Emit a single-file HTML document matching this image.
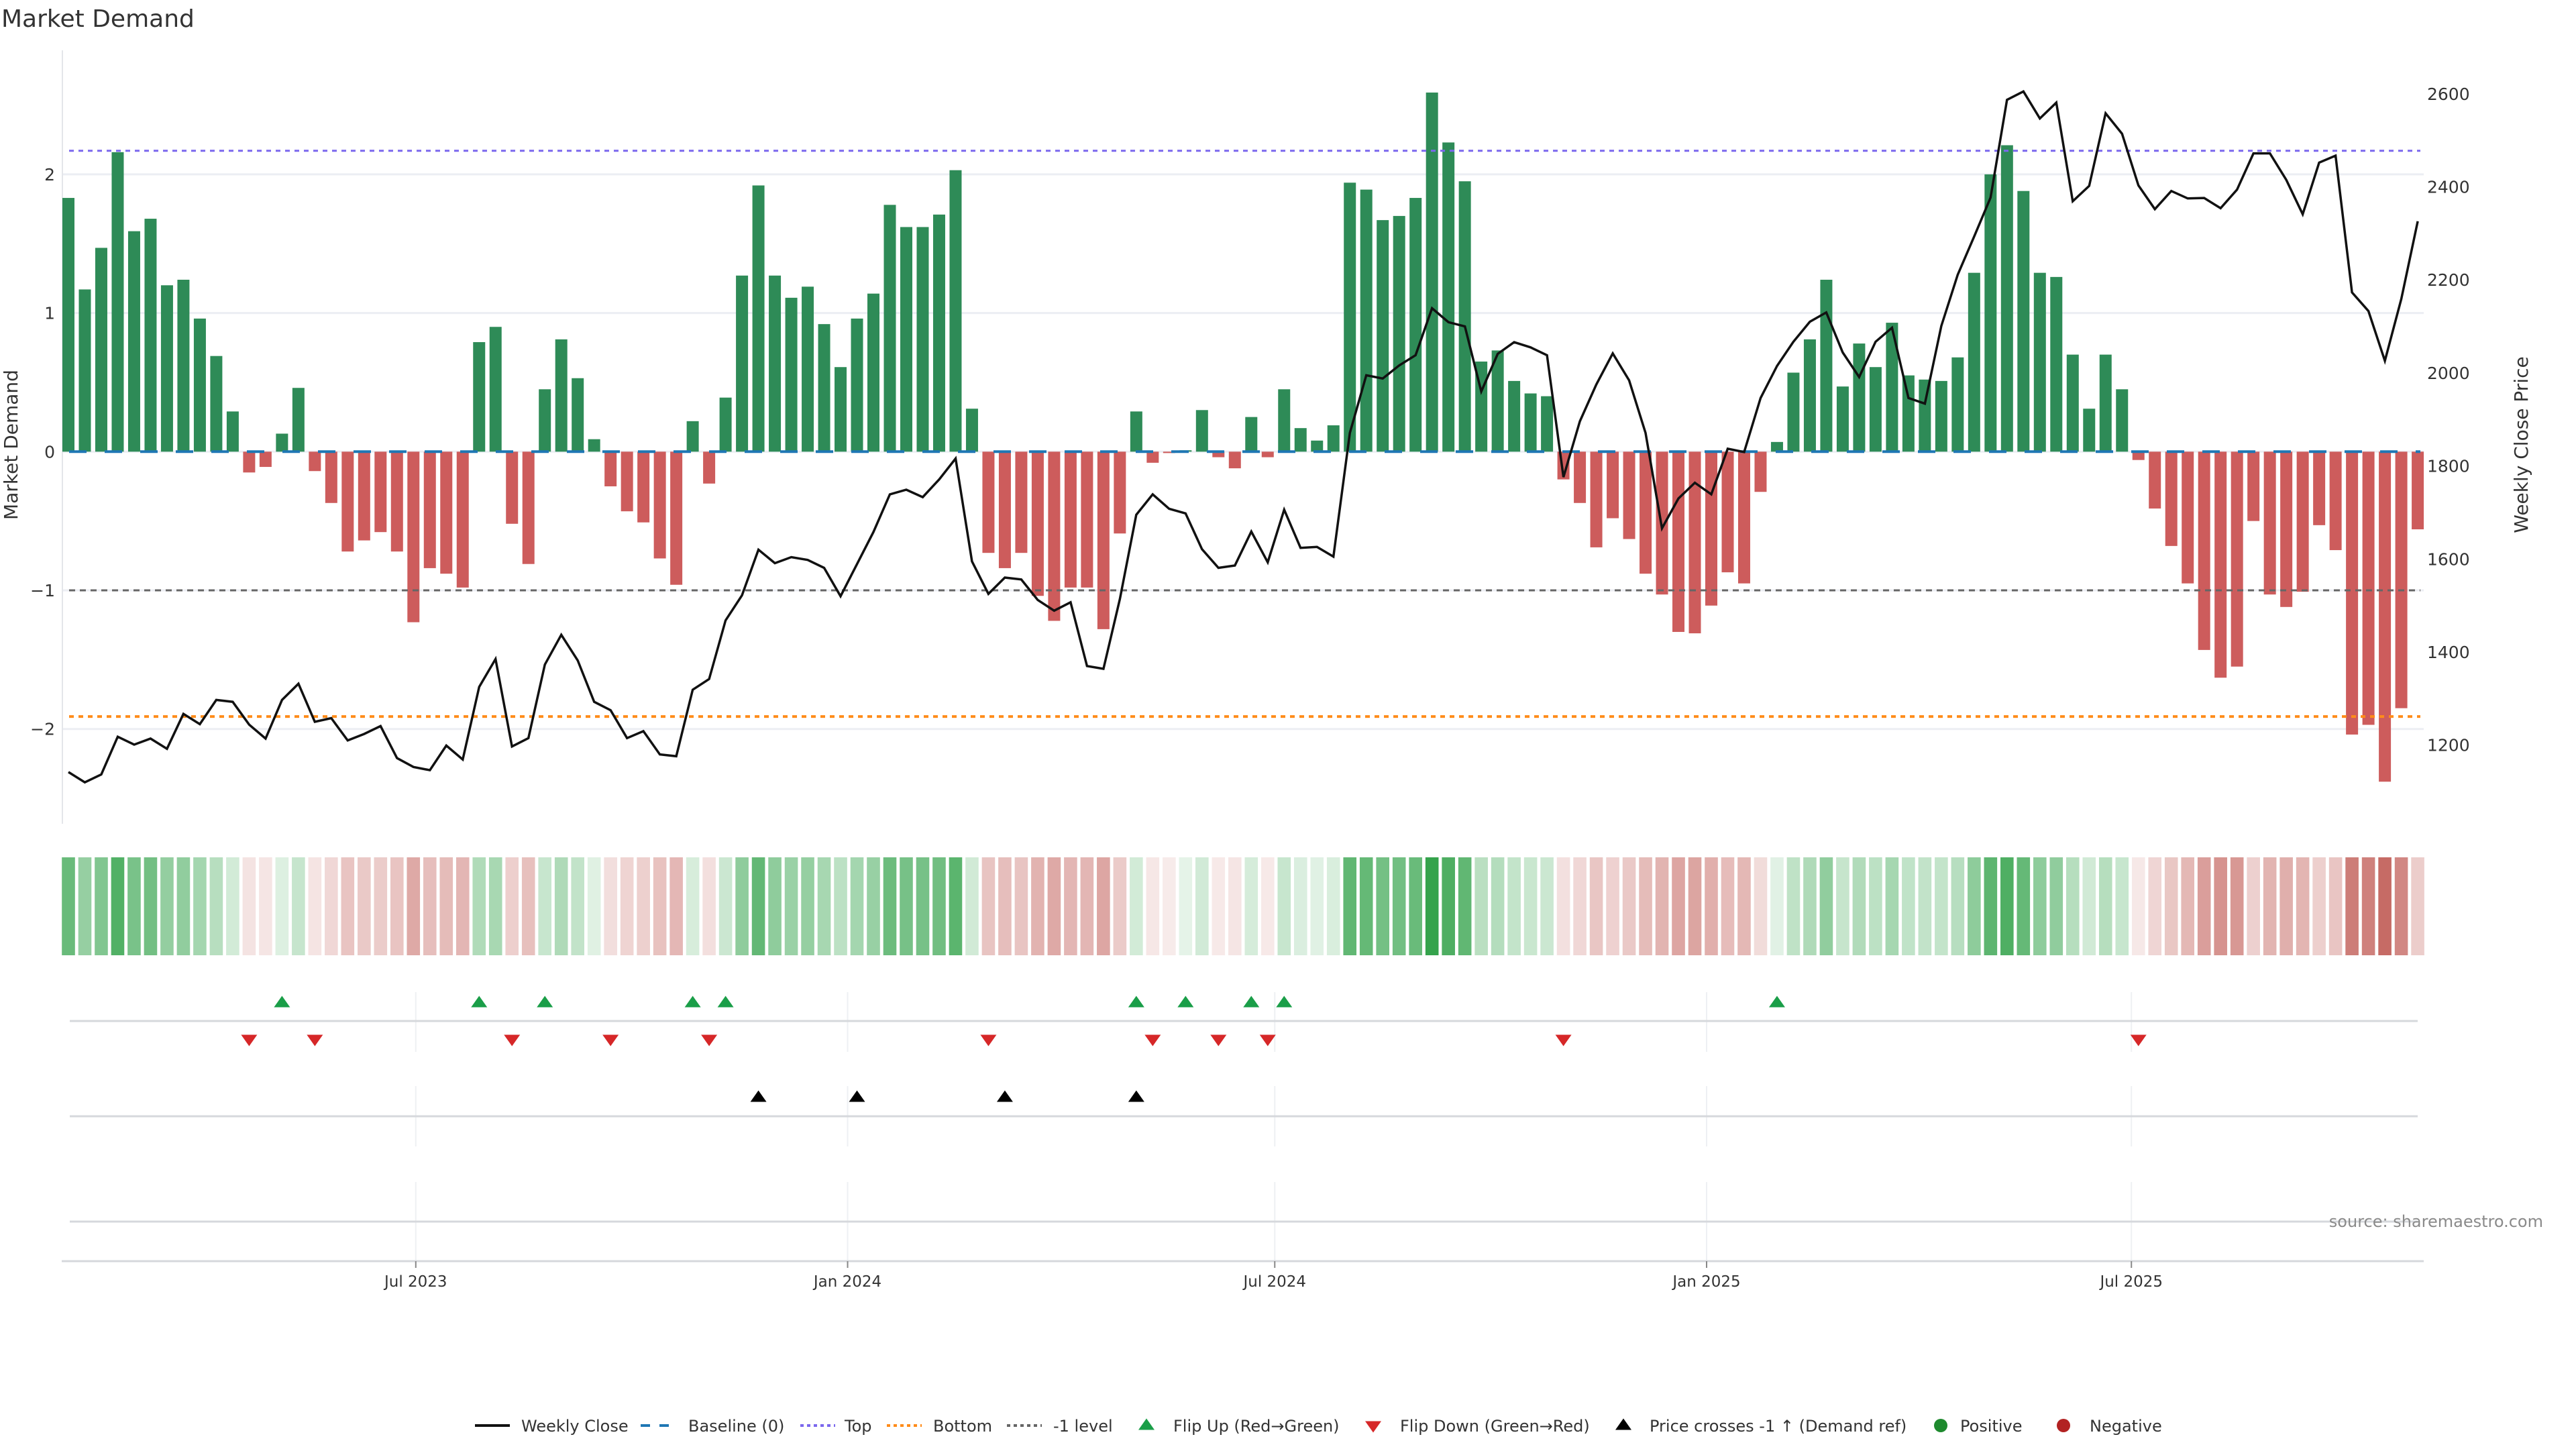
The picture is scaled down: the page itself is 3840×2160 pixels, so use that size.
<!DOCTYPE html>
<html><head><meta charset="utf-8"><style>
html,body{margin:0;padding:0;background:#fff;}
svg{display:block;font-family:"DejaVu Sans","Liberation Sans",sans-serif;}
</style></head><body>
<svg id="chart" xmlns="http://www.w3.org/2000/svg" width="3840" height="2160" viewBox="0 0 3840 2160">
<rect width="3840" height="2160" fill="#fff"/>
<text x="2" y="40" font-size="36" fill="#333">Market Demand</text>
<g id="main"></g>
</svg>
<script>
const demand = [1.83,1.17,1.47,2.16,1.59,1.68,1.20,1.24,0.96,0.69,
0.29,-0.15,-0.11,0.13,0.46,-0.14,-0.37,-0.72,-0.64,-0.58,
-0.72,-1.23,-0.84,-0.88,-0.98,0.79,0.90,-0.52,-0.81,0.45,
0.81,0.53,0.09,-0.25,-0.43,-0.51,-0.77,-0.96,0.22,-0.23,
0.39,1.27,1.92,1.27,1.11,1.19,0.92,0.61,0.96,1.14,
1.78,1.62,1.62,1.71,2.03,0.31,-0.73,-0.84,-0.73,-1.04,
-1.22,-0.98,-0.98,-1.28,-0.59,0.29,-0.08,-0.01,0.01,0.30,
-0.04,-0.12,0.25,-0.04,0.45,0.17,0.08,0.19,1.94,1.89,
1.67,1.70,1.83,2.59,2.23,1.95,0.65,0.73,0.51,0.42,
0.40,-0.20,-0.37,-0.69,-0.48,-0.63,-0.88,-1.03,-1.30,-1.31,
-1.11,-0.87,-0.95,-0.29,0.07,0.57,0.81,1.24,0.47,0.78,
0.61,0.93,0.55,0.52,0.51,0.68,1.29,2.00,2.21,1.88,
1.29,1.26,0.70,0.31,0.70,0.45,-0.06,-0.41,-0.68,-0.95,
-1.43,-1.63,-1.55,-0.50,-1.03,-1.12,-1.01,-0.53,-0.71,-2.04,
-1.97,-2.38,-1.85,-0.56];
const price = [1142,1120,1137,1218,1201,1214,1192,1267,1245,1297,
1293,1244,1214,1297,1332,1250,1258,1210,1224,1241,
1172,1153,1146,1199,1169,1325,1385,1197,1215,1373,
1437,1382,1293,1275,1215,1230,1180,1176,1319,1342,
1468,1522,1620,1591,1604,1598,1581,1520,1589,1658,
1739,1749,1733,1771,1816,1595,1525,1560,1556,1512,
1489,1507,1370,1364,1514,1695,1739,1708,1698,1621,
1581,1586,1659,1593,1706,1624,1626,1605,1871,1995,
1988,2016,2038,2139,2109,2100,1960,2041,2066,2055,
2038,1776,1896,1975,2042,1984,1871,1666,1730,1764,
1739,1837,1830,1946,2015,2067,2110,2130,2044,1991,
2067,2097,1946,1934,2101,2211,2293,2377,2587,2605,
2547,2581,2369,2402,2558,2514,2403,2352,2391,2375,
2376,2354,2394,2472,2472,2415,2341,2452,2467,2173,
2133,2026,2159,2326];
const leftTicks = [2,1,0,-1,-2];
const rightTicks = [1200,1400,1600,1800,2000,2200,2400,2600];
const xTickLabels = ["Jul 2023","Jan 2024","Jul 2024","Jan 2025","Jul 2025"];
const xTickDates = ["2023-07-01","2024-01-01","2024-07-01","2025-01-01","2025-07-01"];
const startDate = "2023-02-03";
const topLevel = 2.17;
const bottomLevel = -1.91;
const minusOneLevel = -1;

const NS = "http://www.w3.org/2000/svg";
const main = document.getElementById('main');
function mk(tag, attrs, parent, text){
  const e = document.createElementNS(NS, tag);
  for (const k in attrs) e.setAttribute(k, attrs[k]);
  if (text !== undefined) e.textContent = text;
  (parent || main).appendChild(e);
  return e;
}
const X0 = 102, DX = 24.49;
const xs = i => X0 + i * DX;
const ys = v => 673.3 - v * 206.7;
const yp = p => 1110.7 - (p - 1200) * 0.6935;
const dayMs = 86400000;
const xDate = d => xs((new Date(d) - new Date(startDate)) / dayMs / 7);
const PL = 93, PR = 3613;

const grid = mk('g', {});


leftTicks.forEach(t => {
  const l = mk('line', {x1: PL, x2: PR, y1: ys(t), y2: ys(t), stroke: '#eceef3', 'stroke-width': 3}, grid);
  
  
  const tx = mk('text', {x: 82, y: ys(t) + 9, 'text-anchor': 'end', 'font-size': 25, fill: '#333'}, grid, t < 0 ? '\u2212' + Math.abs(t) : String(t));
  
  
});
rightTicks.forEach(t => {
  const tx = mk('text', {x: 3618, y: yp(t) + 9, 'font-size': 25, fill: '#333'}, grid, String(t));
  
  
});
const ax = mk('line', {x1: PL, x2: PL, y1: 75, y2: 1228, stroke: '#e4e6ea', 'stroke-width': 2});


const yl = mk('text', {x: 0, y: 0, 'font-size': 28, fill: '#333', 'text-anchor': 'middle', transform: 'translate(26,663) rotate(-90)'}, main, 'Market Demand');


const yr = mk('text', {x: 0, y: 0, 'font-size': 28, fill: '#333', 'text-anchor': 'middle', transform: 'translate(3768,663) rotate(-90)'}, main, 'Weekly Close Price');



const bars = mk('g', {});


demand.forEach((v, i) => {
  const y1 = ys(Math.max(v, 0)), y2 = ys(Math.min(v, 0));
  const r = mk('rect', {x: xs(i) - 9, y: y1, width: 18, height: Math.max(y2 - y1, 0.5), fill: v >= 0 ? '#2e8b57' : '#cd5c5c'}, bars);
  
  
});
function hline(v, color, dash, name, w){
  const l = mk('line', {x1: PL + 10, x2: PR - 5, y1: ys(v), y2: ys(v), stroke: color, 'stroke-width': w || 3, 'stroke-dasharray': dash});
  
  
}
hline(0, '#1f77b4', '26 27', 'baseline-zero', 4);
hline(topLevel, '#7b68ee', '7 7', 'top-line');
hline(bottomLevel, '#ff8c1a', '7 7', 'bottom-line', 4);
hline(minusOneLevel, '#666', '9 7', 'minus-one-level');

const pts = price.map((p, i) => xs(i).toFixed(1) + ',' + yp(p).toFixed(1)).join(' ');
const pl = mk('polyline', {points: pts, fill: 'none', stroke: '#111', 'stroke-width': 3.5, 'stroke-linejoin': 'miter'});



const hm = mk('g', {});


demand.forEach((v, i) => {
  const t = Math.min(Math.abs(v) / 2.6, 1) * 0.85 + 0.12;
  const tgt = v >= 0 ? [46, 160, 70] : [192, 90, 84];
  const c = tgt.map(k => Math.round(255 - t * (255 - k)));
  const r = mk('rect', {x: xs(i) - 9.8, y: 1278, width: 19.6, height: 146, fill: 'rgb(' + c.join(',') + ')'}, hm);
  
  
});

const panels = [[1479, 1568, 1522], [1619, 1709, 1664], [1762, 1880, 1821]];
panels.forEach(p => {
  xTickDates.forEach(d => {
    const g = mk('line', {x1: xDate(d), x2: xDate(d), y1: p[0], y2: p[1], stroke: '#eef0f3', 'stroke-width': 2});
    
    
  });
  const l = mk('line', {x1: 104, x2: 3604, y1: p[2], y2: p[2], stroke: '#d6d8dc', 'stroke-width': 3});
  
  
});
const bx = mk('line', {x1: 92, x2: 3613, y1: 1880, y2: 1880, stroke: '#d6d8dc', 'stroke-width': 3});


xTickDates.forEach((d, k) => {
  const tk = mk('line', {x1: xDate(d), x2: xDate(d), y1: 1880, y2: 1890, stroke: '#888', 'stroke-width': 2});
  
  
  const tl = mk('text', {x: xDate(d), y: 1918, 'text-anchor': 'middle', 'font-size': 23, fill: '#333'}, main, xTickLabels[k]);
  
  
});
function tri(x, y, up, color){
  const h = 17, w = 12;
  const p = up ? `${x-w},${y+h/2} ${x+w},${y+h/2} ${x},${y-h/2}` : `${x-w},${y-h/2} ${x+w},${y-h/2} ${x},${y+h/2}`;
  return mk('polygon', {points: p, fill: color});
}
const threshPrice = 1200 + (1110.7 - ys(minusOneLevel)) / 0.6935;
for (let i = 1; i < demand.length; i++) {
  if (demand[i - 1] < 0 && demand[i] >= 0) {
    const t = tri(xs(i), 1493, true, '#1a9e48');
    
    
  }
  if (demand[i - 1] >= 0 && demand[i] < 0) {
    const t = tri(xs(i), 1551, false, '#d62728');
    
    
  }
  if (price[i - 1] < threshPrice && price[i] >= threshPrice) {
    const t = tri(xs(i), 1634, true, '#000');
    
    
  }
}
const src = mk('text', {x: 3791, y: 1829, 'text-anchor': 'end', 'font-size': 24, fill: '#8a8a8a'}, main, 'source: sharemaestro.com');



const lg = mk('g', {});


const LY = 2125;
function ltext(x, s){ const t = mk('text', {x: x, y: LY + 9, 'font-size': 24, fill: '#333'}, lg, s);   }
function lline(x, color, dash, w){ const l = mk('line', {x1: x, x2: x + 52, y1: LY, y2: LY, stroke: color, 'stroke-width': w, 'stroke-dasharray': dash}, lg);   }
lline(708, '#111', 'none', 4); ltext(777, 'Weekly Close');
lline(955, '#1f77b4', '14 14', 4); ltext(1026, 'Baseline (0)');
lline(1193, '#7b68ee', '5 5', 4); ltext(1259, 'Top');
lline(1322, '#ff8c1a', '5 5', 4); ltext(1391, 'Bottom');
lline(1501, '#666', '5 5', 4); ltext(1570, '-1 level');
let t1 = tri(1709, LY - 2, true, '#1a9e48'); lg.appendChild(t1);


ltext(1749, 'Flip Up (Red\u2192Green)');
let t2 = tri(2047, LY + 2, false, '#d62728'); lg.appendChild(t2);


ltext(2087, 'Flip Down (Green\u2192Red)');
let t3 = tri(2420, LY - 2, true, '#000'); lg.appendChild(t3);


ltext(2459, 'Price crosses -1 \u2191 (Demand ref)');
const c1 = mk('circle', {cx: 2893, cy: LY, r: 10, fill: '#1e8a2e'}, lg);


ltext(2922, 'Positive');
const c2 = mk('circle', {cx: 3076, cy: LY, r: 10, fill: '#b22222'}, lg);


ltext(3115, 'Negative');
</script>
</body></html>
